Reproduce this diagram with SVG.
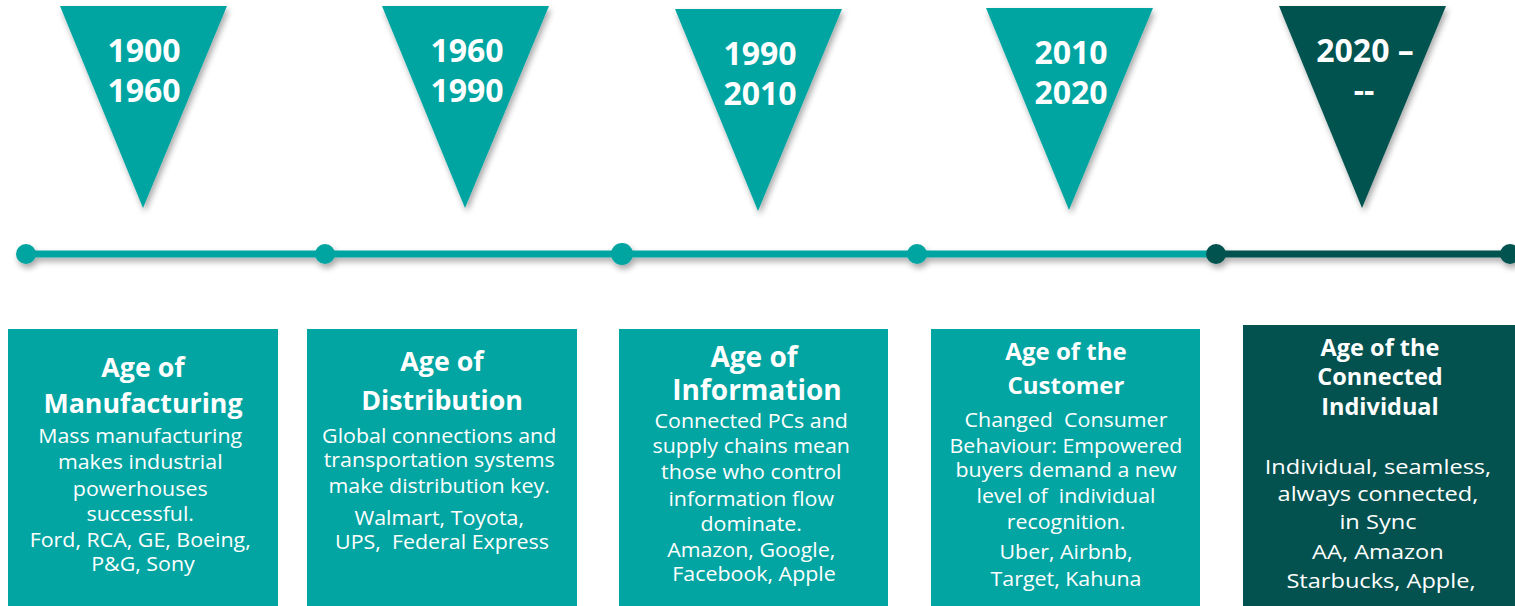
<svg xmlns="http://www.w3.org/2000/svg" width="1515" height="606" viewBox="0 0 1515 606">
  <defs>
    <filter id="shadow" x="-20%" y="-20%" width="140%" height="160%">
      <feGaussianBlur in="SourceAlpha" stdDeviation="3"/>
      <feOffset dx="2" dy="4" result="blur"/>
      <feComponentTransfer><feFuncA type="linear" slope="0.35"/></feComponentTransfer>
      <feMerge><feMergeNode/><feMergeNode in="SourceGraphic"/></feMerge>
    </filter>
    <style>
      .teal { fill: #02A5A2; }
      .dark { fill: #035250; }
      .year { font-family: "Open Sans", "Liberation Sans", sans-serif; font-weight: bold; font-size: 32px; fill: #fff; text-anchor: middle; }
      .head { font-family: "Open Sans", "Liberation Sans", sans-serif; font-weight: bold; fill: #fff; text-anchor: middle; }
      .body { font-family: "Open Sans", "Liberation Sans", sans-serif; font-size: 20px; fill: #fff; text-anchor: middle; }
    </style>
  </defs>
  <rect width="1515" height="606" fill="#fff"/>

  <!-- timeline -->
  <g id="connectors" filter="url(#shadow)">
    <rect class="teal" x="26" y="250.5" width="1190" height="7"/>
    <rect class="dark" x="1216" y="250.5" width="300" height="7"/>
    <circle class="teal" cx="26" cy="254" r="10"/>
    <circle class="teal" cx="325" cy="254" r="10"/>
    <circle class="teal" cx="622" cy="254" r="11"/>
    <circle class="teal" cx="917" cy="254" r="10"/>
    <circle class="dark" cx="1216" cy="254" r="10"/>
    <circle class="dark" cx="1510" cy="254" r="10"/>
  </g>

  <!-- period markers -->
  <g id="period-1900">
    <polygon class="teal" filter="url(#shadow)" points="60,6 227,6 143,208"/>
    <text class="year" x="144" y="62">1900</text>
    <text class="year" x="144" y="102">1960</text>
  </g>
  <g id="period-1960">
    <polygon class="teal" filter="url(#shadow)" points="382,6 549,6 465,208"/>
    <text class="year" x="467" y="62">1960</text>
    <text class="year" x="467" y="102">1990</text>
  </g>
  <g id="period-1990">
    <polygon class="teal" filter="url(#shadow)" points="675,9 842,9 758,211"/>
    <text class="year" x="760" y="65">1990</text>
    <text class="year" x="760" y="105">2010</text>
  </g>
  <g id="period-2010">
    <polygon class="teal" filter="url(#shadow)" points="986,8 1153,8 1069,210"/>
    <text class="year" x="1071" y="64">2010</text>
    <text class="year" x="1071" y="104">2020</text>
  </g>
  <g id="period-2020">
    <polygon class="dark" filter="url(#shadow)" points="1279,6 1446,6 1362,208"/>
    <text class="year" x="1365" y="62">2020 –</text>
    <text class="year" x="1364" y="102">--</text>
  </g>

  <!-- era cards -->
  <g id="age-manufacturing">
    <rect class="teal" x="8" y="329" width="270" height="277"/>
    <g transform="translate(143,0) scale(1.03,1)">
      <text class="head" font-size="26" x="0" y="377">Age of</text>
      <text class="head" font-size="26" x="0" y="413">Manufacturing</text>
    </g>
    <text class="body" transform="translate(143,0) scale(1.07,1)">
      <tspan x="0" y="443">Mass manufacturing</tspan>
      <tspan x="0" y="469">makes industrial</tspan>
      <tspan x="0" y="496">powerhouses</tspan>
      <tspan x="0" y="521">successful.</tspan>
      <tspan x="0" y="547">Ford, RCA, GE, Boeing,</tspan>
      <tspan x="0" y="571">P&amp;G, Sony</tspan>
    </text>
  </g>
  <g id="age-distribution">
    <rect class="teal" x="307" y="329" width="270" height="277"/>
    <g transform="translate(442,0) scale(1.03,1)">
      <text class="head" font-size="26" x="0" y="371">Age of</text>
      <text class="head" font-size="26" x="0" y="410">Distribution</text>
    </g>
    <text class="body" transform="translate(442,0) scale(1.07,1)">
      <tspan x="0" y="443">Global connections and</tspan>
      <tspan x="0" y="467">transportation systems</tspan>
      <tspan x="0" y="493">make distribution key.</tspan>
      <tspan x="0" y="525">Walmart, Toyota,</tspan>
      <tspan x="0" y="549" xml:space="preserve">UPS,  Federal Express</tspan>
    </text>
  </g>
  <g id="age-information">
    <rect class="teal" x="619" y="329" width="269" height="277"/>
    <text class="head" font-size="28" x="754" y="367">Age of</text>
    <text class="head" font-size="28" x="757" y="400">Information</text>
    <text class="body" transform="translate(754,0) scale(1.07,1)">
      <tspan x="0" y="428">Connected PCs and</tspan>
      <tspan x="0" y="453">supply chains mean</tspan>
      <tspan x="0" y="479">those who control</tspan>
      <tspan x="0" y="506">information flow</tspan>
      <tspan x="0" y="531">dominate.</tspan>
      <tspan x="0" y="557">Amazon, Google,</tspan>
      <tspan x="0" y="581">Facebook, Apple</tspan>
    </text>
  </g>
  <g id="age-customer">
    <rect class="teal" x="931" y="329" width="269" height="277"/>
    <text class="head" font-size="24" x="1066" y="360">Age of the</text>
    <text class="head" font-size="24" x="1066" y="394">Customer</text>
    <text class="body" transform="translate(1066,0) scale(1.07,1)" xml:space="preserve"><tspan x="0" y="427">Changed  Consumer</tspan><tspan x="0" y="453">Behaviour: Empowered</tspan><tspan x="0" y="477">buyers demand a new</tspan><tspan x="0" y="503">level of  individual</tspan><tspan x="0" y="529">recognition.</tspan><tspan x="0" y="559">Uber, Airbnb,</tspan><tspan x="0" y="586">Target, Kahuna</tspan></text>
  </g>
  <g id="age-connected-individual">
    <rect class="dark" x="1243" y="325" width="272" height="281"/>
    <text class="head" font-size="23.5" x="1380" y="356">Age of the</text>
    <text class="head" font-size="23.5" x="1380" y="385">Connected</text>
    <text class="head" font-size="23.5" x="1380" y="415">Individual</text>
    <text class="body" font-size="21" transform="translate(1381,0) scale(1.18,1)">
      <tspan x="0" y="474">Individual, seamless,</tspan>
      <tspan x="0" y="501">always connected,</tspan>
      <tspan x="0" y="529">in Sync</tspan>
      <tspan x="0" y="559">AA, Amazon</tspan>
      <tspan x="0" y="588">Starbucks, Apple,</tspan>
    </text>
  </g>
</svg>
